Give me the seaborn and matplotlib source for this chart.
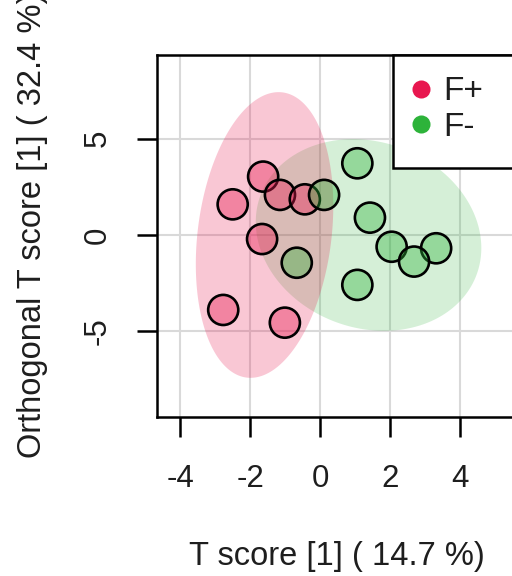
import numpy as np
import pandas as pd
import matplotlib
matplotlib.use("Agg")
import matplotlib.pyplot as plt
from matplotlib.lines import Line2D
from matplotlib.patches import Rectangle
import seaborn as sns

# ---- data ----
groups = ["F+", "F-"]
fplus_x = [-1.63, -1.15, -0.44, -2.50, -1.66, -2.77, -1.01]
fplus_y = [3.03, 2.08, 1.85, 1.59, -0.21, -3.89, -4.55]
fminus_x = [1.06, 0.11, 1.42, 2.04, 3.31, 2.68, -0.67, 1.06]
fminus_y = [3.72, 2.08, 0.90, -0.61, -0.69, -1.38, -1.44, -2.59]
# ellipse: centre and two semi-axis vectors (data units)
ell_center = {"F+": (-1.59, 0.0), "F-": (1.38, 0.0)}
ell_u = {"F+": (0.512, 7.40), "F-": (3.09, -2.04)}
ell_v = {"F+": (1.895, -0.432), "F-": (0.909, 4.535)}
xticks = [-4, -2, 0, 2, 4]
yticks = [-5, 0, 5]
xlabel = "T score [1] ( 14.7 %)"
ylabel = "Orthogonal T score [1] ( 32.4 %)"

colors = {"F+": "#E8174F", "F-": "#2DB33A"}

df = pd.DataFrame({
    "x": fplus_x + fminus_x,
    "y": fplus_y + fminus_y,
    "group": ["F+"] * len(fplus_x) + ["F-"] * len(fminus_x),
})

sns.set_style("white")
plt.rcParams["font.family"] = ["Liberation Sans", "DejaVu Sans"]

fig = plt.figure(figsize=(5.12, 5.76), dpi=100)
ax = fig.add_axes([156.7 / 512, 1 - 416.7 / 576, (516.3 - 156.7) / 512, (416.7 - 55) / 576])

# ellipses
t = np.linspace(0, 2 * np.pi, 400)
ell_alpha = {"F-": 0.2, "F+": 0.24}
for g in ["F-", "F+"]:
    cx, cy = ell_center[g]
    ux, uy = ell_u[g]
    vx, vy = ell_v[g]
    ex = cx + np.cos(t) * ux + np.sin(t) * vx
    ey = cy + np.cos(t) * uy + np.sin(t) * vy
    ax.fill(ex, ey, color=colors[g], alpha=ell_alpha[g], lw=0, zorder=1)

sns.scatterplot(data=df, x="x", y="y", hue="group", palette=colors,
                s=470, edgecolor="black", linewidth=1.9, legend=False,
                ax=ax, zorder=3)
coll = ax.collections[-1]
fc = coll.get_facecolors()
fc[:, 3] = 0.38
coll.set_facecolors(fc)
coll.set_edgecolors((0, 0, 0, 1))

ax.set_xlim(-4.67, 5.6)
ax.set_ylim(-9.43, 9.34)
ax.set_xticks(xticks)
ax.set_yticks(yticks)
ax.set_xticklabels([str(v) for v in xticks])
ax.set_yticklabels([str(v) for v in yticks])

ax.grid(True, color="#d9d9d9", lw=1.5)
ax.set_axisbelow(True)
for sp in ["top", "left", "bottom", "right"]:
    ax.spines[sp].set_color("black")
    ax.spines[sp].set_linewidth(1.8)

ax.tick_params(axis="both", direction="out", length=14.4, width=1.8,
               color="black", labelsize=22.5, labelcolor="#1e1e1e",
               bottom=True, left=True, top=False, right=False)
ax.tick_params(axis="x", pad=20)
ax.tick_params(axis="y", pad=17)
for lab in ax.get_yticklabels():
    lab.set_rotation(90)
    lab.set_va("center")

ax.set_xlabel(xlabel, fontsize=23.5, color="#1e1e1e", va="center")
ax.set_ylabel(ylabel, fontsize=23.5, color="#1e1e1e", va="center")
ax.xaxis.set_label_coords(0.5, (416.7 - 556.7) / 361.7)
ax.yaxis.set_label_coords((32 - 156.7) / 359.6, (416.7 - 225) / 361.7)

# legend box and legend
ax.add_patch(Rectangle((0.657, 0.6884), 1 - 0.657, 1 - 0.6884,
                       transform=ax.transAxes, facecolor="white",
                       edgecolor="black", lw=1.8, zorder=5, clip_on=False))
handles = [Line2D([], [], ls="", marker="o", markersize=13,
                  markerfacecolor=colors[g], markeredgewidth=0) for g in groups]
leg = ax.legend(handles, groups, loc="upper left",
                bbox_to_anchor=(0.6877, 0.9406), frameon=False,
                fontsize=24, handlelength=1.0, handletextpad=0.17,
                borderpad=0, labelspacing=0.14, borderaxespad=0)
for txt in leg.get_texts():
    txt.set_color("#1e1e1e")
leg.set_zorder(6)

fig.savefig("out.png", dpi=100)
